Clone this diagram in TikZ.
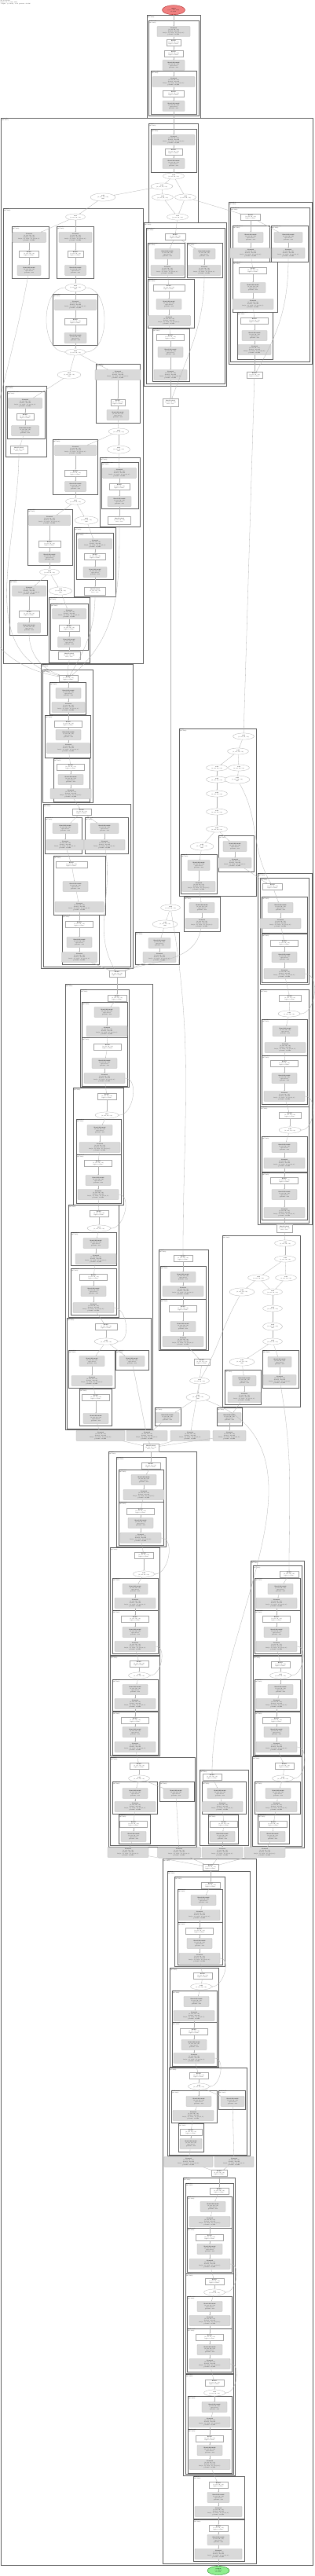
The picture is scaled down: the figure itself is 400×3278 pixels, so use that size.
\documentclass[tikz,border=0pt]{standalone}
\usetikzlibrary{shapes.geometric,arrows.meta}
\newcommand\tf{\fontsize{1.6}{2}\selectfont}
\newcommand\tC{\textbf{Conv2d}\\(1, 64, 56, 56)\\in=64, out=64\\k=(3, 3), s=(1, 1), p=(1, 1)\\params: 36,864}
\newcommand\tB{\textbf{BatchNorm2d}\\(1, 64, 56, 56)\\eps=1e-05\\params: 128}
\newcommand\tR{\textbf{ReLU}\\(1, 64, 56, 56)\\inplace=True}
\newcommand\tA{\textbf{add}\\(1, 64, 56, 56)}
\newcommand\tF{\textbf{MaxPool2d}\\(1, 64, 56, 56)\\k=3, s=2}
\tikzset{
 gb/.style={draw=black!30,fill=black!15,rounded corners=0.8pt,line width=0.25pt,minimum height=13pt,inner sep=0.4pt,align=center,font=\tf},
 wb/.style={draw=black!35,fill=white,line width=0.25pt,minimum height=8pt,inner sep=0.4pt,align=center,font=\tf},
 el/.style={ellipse,draw=black!35,fill=white,line width=0.25pt,minimum height=8pt,inner sep=0pt,align=center,font=\tf},
 cl/.style={draw=black!62,line width=0.6pt},
 cll/.style={anchor=north west,inner sep=0.6pt,align=left,font=\tf},
 ed/.style={draw=black!30,line width=0.3pt,-{Stealth[length=1.3pt,width=1pt]}},
}
\newcommand\nG[4]{\ifdim#4pt>40pt\node[gb,minimum width=#4pt] (#1) at (#2,#3) {\tC};\else\node[gb,minimum width=#4pt] (#1) at (#2,#3) {\tB};\fi}
\newcommand\nW[4]{\node[wb,minimum width=#4pt] (#1) at (#2,#3) {\tR};}
\newcommand\nWx[4]{\node[wb,minimum width=#4pt,minimum height=10pt] (#1) at (#2,#3) {\tF};}
\newcommand\nE[4]{\node[el,minimum width=#4pt] (#1) at (#2,#3) {\tA};}
\newcommand\nEx[4]{\node[el,minimum width=#4pt,minimum height=10pt] (#1) at (#2,#3) {\tA\\sum};}
\newcommand\cL[5]{\draw[cl] (#1,#2) rectangle (#3,#4); \node[cll] at (#1,#2) {#5\\(Module)};}
\newcommand\eD[2]{\draw[ed] (#1) -- (#2);}
\newcommand\eC[4]{\draw[ed] (#1) to[out=#3,in=#4] (#2);}
\newcommand\cH[1]{\def\prev{}\foreach \n in {#1}{\ifx\prev\empty\else\draw[ed] (\prev) -- (\n);\fi\xdef\prev{\n}}}
\begin{document}
\begin{tikzpicture}[x=1pt,y=-1pt]
\useasboundingbox (0,0) rectangle (400,3278);
\node[anchor=north west,inner sep=0.5pt,align=left,font=\tf] (legend) at (0,0) {Model graph\\input: (1, 3, 224, 224)\\output: (1, 1000), total params: 25.6M};
% ---------- clusters ----------
\cL{187}{19}{255}{150}{stem}
\cL{189}{26}{253}{147}{stem.conv}
\cL{192}{90}{250}{145}{stem.conv2}
\cL{1.3}{150}{398.7}{3264}{network}
\cL{189}{157}{252}{283}{stage0}
\cL{192}{164}{250}{219}{stage0.conv}
\cL{4}{265}{182}{844}{stage1}
\cL{15}{288}{62}{354}{stage1.b0}
\cL{72}{288}{119}{354}{stage1.b1}
\cL{67}{374}{124}{439}{stage1.b2}
\cL{122}{463}{178}{538}{stage1.b3}
\cL{7}{491}{59}{581}{stage1.b4}
\cL{9}{498}{57}{558}{stage1.b4.conv}
\cL{67}{559}{124}{629}{stage1.b5}
\cL{127}{582}{178}{670}{stage1.b6}
\cL{129}{588}{176}{647}{stage1.b6.conv}
\cL{35}{648}{92}{719}{stage1.b7}
\cL{94}{671}{147}{759}{stage1.b8}
\cL{97}{678}{144}{737}{stage1.b8.conv}
\cL{12}{738}{60}{808}{stage1.b9}
\cL{62}{760}{114}{843}{stage1.b10}
\cL{64}{768}{112}{827}{stage1.b10.conv}
\cL{52}{845}{169}{1232}{stage2}
\cL{54}{852}{118}{1021}{stage2.0}
\cL{63}{868}{109}{909}{stage2.0.a}
\cL{57}{910}{115}{964}{stage2.0.b}
\cL{68}{965}{114}{1020}{stage2.0.c}
\cL{55}{1023}{166}{1230}{stage2.1}
\cL{57}{1040}{104}{1086}{stage2.1.a}
\cL{108}{1040}{163}{1086}{stage2.1.b}
\cL{68}{1089}{134}{1164}{stage2.1.c}
\cL{79}{1164}{126}{1227}{stage2.1.d}
\cL{183}{283}{288}{491}{branch.a}
\cL{186}{290}{286}{488}{branch.a.0}
\cL{188}{309}{235}{353}{branch.a.0.x}
\cL{238}{309}{283}{353}{branch.a.0.y}
\cL{188}{355}{247}{417}{branch.a.0.c}
\cL{194}{418}{241}{485}{branch.a.0.d}
\cL{291}{257}{397}{463}{branch.b}
\cL{293}{264}{394}{460}{branch.b.0}
\cL{296}{287}{343}{333}{branch.b.0.x}
\cL{345}{287}{392}{333}{branch.b.0.y}
\cL{296}{333}{353}{397}{branch.b.0.c}
\cL{302}{397}{347}{457}{branch.b.0.d}
\cL{228}{927}{326}{1140}{merge}
\cL{278}{1063}{323}{1109}{merge.a}
\cL{230}{1087}{276}{1137}{merge.b}
\cL{234}{1141}{280}{1185}{merge.c}
\cL{172}{1186}{228}{1227}{merge.d}
\cL{328}{1111}{397}{1558}{stage3}
\cL{331}{1117}{393}{1252}{stage3.0}
\cL{333}{1141}{391}{1187}{stage3.0.a}
\cL{333}{1188}{391}{1250}{stage3.0.b}
\cL{331}{1259}{393}{1408}{stage3.1}
\cL{333}{1297}{391}{1343}{stage3.1.a}
\cL{333}{1343}{391}{1405}{stage3.1.b}
\cL{331}{1408}{393}{1556}{stage3.2}
\cL{333}{1446}{391}{1491}{stage3.2.a}
\cL{333}{1492}{391}{1552}{stage3.2.b}
\cL{83}{1252}{194}{1819}{stage4}
\cL{102}{1259}{164}{1383}{stage4.0}
\cL{104}{1275}{162}{1320}{stage4.0.a}
\cL{104}{1320}{162}{1382}{stage4.0.b}
\cL{93}{1384}{157}{1533}{stage4.1}
\cL{97}{1424}{154}{1469}{stage4.1.a}
\cL{97}{1469}{154}{1531}{stage4.1.b}
\cL{87}{1533}{151}{1676}{stage4.2}
\cL{90}{1568}{148}{1610}{stage4.2.a}
\cL{90}{1614}{148}{1673}{stage4.2.b}
\cL{85}{1677}{192}{1818}{stage4.3}
\cL{87}{1718}{146}{1766}{stage4.3.a}
\cL{147}{1718}{189}{1743}{stage4.3.b}
\cL{101}{1767}{142}{1814}{stage4.3.c}
\cL{202}{1590}{265}{1718}{stage5}
\cL{204}{1611}{262}{1653}{stage5.a}
\cL{204}{1653}{262}{1717}{stage5.b}
\cL{283}{1572}{382}{1790}{mix}
\cL{334}{1718}{380}{1766}{mix.a}
\cL{286}{1743}{332}{1787}{mix.b}
\cL{197}{1791}{230}{1814}{proj.a}
\cL{276}{1791}{308}{1814}{proj.b}
\cL{138}{1847}{250}{2350}{stage6}
\cL{148}{1854}{211}{1968}{stage6.0}
\cL{151}{1870}{208}{1911}{stage6.0.a}
\cL{151}{1911}{208}{1966}{stage6.0.b}
\cL{140}{1969}{203}{2106}{stage6.1}
\cL{143}{2008}{201}{2049}{stage6.1.a}
\cL{143}{2049}{201}{2104}{stage6.1.b}
\cL{140}{2107}{203}{2234}{stage6.2}
\cL{143}{2137}{201}{2177}{stage6.2.a}
\cL{143}{2178}{201}{2233}{stage6.2.b}
\cL{140}{2236}{248}{2348}{stage6.3}
\cL{143}{2267}{200}{2308}{stage6.3.a}
\cL{203}{2267}{247}{2292}{stage6.3.b}
\cL{151}{2309}{191}{2346}{stage6.3.c}
\cL{319}{1986}{387}{2351}{stage7}
\cL{322}{1992}{384}{2106}{stage7.0}
\cL{324}{2008}{382}{2049}{stage7.0.a}
\cL{324}{2049}{382}{2104}{stage7.0.b}
\cL{322}{2107}{384}{2234}{stage7.1}
\cL{324}{2137}{382}{2177}{stage7.1.a}
\cL{324}{2178}{382}{2233}{stage7.1.b}
\cL{321}{2235}{384}{2349}{stage7.2}
\cL{324}{2267}{382}{2308}{stage7.2.a}
\cL{328}{2309}{368}{2346}{stage7.2.b}
\cL{254}{2252}{316}{2348}{stage8}
\cL{257}{2267}{313}{2308}{stage8.a}
\cL{265}{2309}{303}{2346}{stage8.b}
\cL{207}{2365}{326}{3262}{head}
\cL{213}{2381}{318}{2743}{head.0}
\cL{222}{2388}{286}{2502}{head.0.0}
\cL{226}{2404}{283}{2446}{head.0.0.a}
\cL{226}{2446}{283}{2500}{head.0.0.b}
\cL{216}{2504}{278}{2630}{head.0.1}
\cL{219}{2533}{276}{2573}{head.0.1.a}
\cL{219}{2573}{276}{2629}{head.0.1.b}
\cL{215}{2631}{314}{2742}{head.0.2}
\cL{218}{2660}{276}{2701}{head.0.2.a}
\cL{278}{2660}{312}{2684}{head.0.2.b}
\cL{227}{2702}{259}{2738}{head.0.2.c}
\cL{233}{2771}{299}{3150}{head.1}
\cL{236}{2778}{297}{2893}{head.1.0}
\cL{238}{2795}{295}{2835}{head.1.0.a}
\cL{238}{2835}{295}{2891}{head.1.0.b}
\cL{236}{2893}{297}{3020}{head.1.1}
\cL{238}{2922}{295}{2963}{head.1.1.a}
\cL{238}{2963}{295}{3018}{head.1.1.b}
\cL{236}{3021}{297}{3148}{head.1.2}
\cL{239}{3049}{295}{3091}{head.1.2.a}
\cL{239}{3091}{295}{3147}{head.1.2.b}
\cL{246}{3151}{311}{3205}{head.2}
\cL{246}{3206}{311}{3259}{head.3}
% ---------- nodes ----------
\node[ellipse,draw=red!60!black,fill={rgb,255:red,240;green,128;blue,128},line width=0.3pt,minimum width=29pt,minimum height=12pt,inner sep=0pt,align=center,font=\tf] (in) at (221,12.7) {\textbf{input}\\(1, 3, 224, 224)\\float32};
\nG{a1}{221}{40}{42}\nW{a2}{221}{54}{18}\nW{a3}{221}{68}{24}\nG{a4}{221}{83}{28}
\nG{a5}{221}{104}{54}\nW{a6}{221}{119}{27}\nG{a7}{221}{135}{28}
\nG{b1}{221}{178}{54}\nW{b2}{221}{193}{22}\nG{b3}{221}{208}{28}
\nE{b4}{221}{224}{27}\nE{b5}{206}{237}{28}\nE{b6}{207}{251}{27}\nE{b7}{236}{251}{27}\nE{b8}{226}{276}{27}
\nEx{bo}{131}{251}{32}
% stage1
\nE{c0}{96}{276}{25}
\nG{c1a}{37}{302}{43}\nW{c1b}{37}{323}{25}\nG{c1c}{37}{344}{30}
\nG{c2a}{96}{302}{42}\nW{c2b}{96}{323}{20}\nG{c2c}{96}{344}{27}
\nEx{c3}{96}{366}{26}
\nG{c3a}{96}{388}{53}\nW{c3b}{96}{409}{28}\nG{c3c}{96}{430}{28}
\nE{c4}{96}{448}{25}\nEx{c5}{88}{477}{30}
\nG{c4a}{150}{477}{58}\nW{c4b}{150}{512}{18}\nG{c4c}{150}{528}{28}
\nG{c5a}{32}{513}{43}\nW{c5b}{32}{530}{22}\nG{c5c}{32}{548}{35}\nWx{c5d}{24}{572}{22}
\nG{c6a}{96}{573}{53}\nW{c6b}{96}{602}{28}\nG{c6c}{96}{619}{27}\nE{c6}{96}{638}{25}
\nE{c7}{151}{549}{26}\nEx{c8}{151}{572}{29}
\nG{c7a}{152}{602}{43}\nW{c7b}{152}{619}{26}\nG{c7c}{152}{638}{30}\nWx{c7d}{152}{662}{29}
\nEx{c9}{110}{662}{30}
\nG{c8a}{63}{662}{53}\nW{c8b}{63}{692}{28}\nG{c8c}{63}{709}{27}
\nE{c10}{63}{728}{25}\nEx{c11}{77}{752}{29}
\nG{c9a}{121}{692}{43}\nW{c9b}{121}{708}{27}\nG{c9c}{121}{728}{30}\nWx{c9d}{121}{752}{27}
\nG{c10a}{37}{752}{43}\nW{c10b}{37}{781}{26}\nG{c10c}{37}{799}{29}
\nG{c11a}{88}{781}{43}\nW{c11b}{88}{799}{26}\nG{c11c}{88}{817}{29}\nWx{c11d}{88}{834}{28}
% stage2
\nW{d0}{87}{863}{24}
\nG{d1}{87}{882}{32}\nG{d2}{87}{900}{42}
\nW{d3}{87}{921}{35}\nG{d4}{87}{935}{32}\nG{d5}{87}{952}{55}
\nW{d6}{90}{976}{35}\nG{d7}{90}{992}{32}\nG{d8}{90}{1010}{52}
\nW{d9}{104}{1033}{24}
\nG{d10}{83}{1054}{32}\nG{d11}{83}{1075}{48}
\nG{d12}{133}{1054}{36}\nG{d13}{133}{1075}{52}
\nW{d14}{91}{1100}{40}\nG{d15}{96}{1128}{32}\nG{d16}{101}{1154}{62}
\nW{d17}{101}{1176}{35}\nG{d18}{101}{1199}{32}\nG{d19}{101}{1218}{45}
\nW{i0}{149}{1239}{20}
% branch a, b
\nW{e0}{223}{301}{26}
\nG{e1}{213}{323}{32}\nG{e2}{213}{344}{42}
\nG{e3}{260}{323}{28}\nG{e4}{260}{344}{42}
\nW{e5}{215}{366}{40}\nG{e6}{215}{387}{32}\nG{e7}{215}{408}{55}
\nW{e8}{217}{429}{35}\nG{e9}{217}{448}{32}\nG{e10}{217}{477}{42}
\nWx{w1}{217}{512}{20}
\nW{f0}{319}{276}{25}
\nG{f1}{319}{302}{32}\nG{f2}{319}{322}{52}
\nG{f3}{367}{302}{36}\nG{f4}{367}{322}{42}
\nW{f5}{322}{344}{35}\nG{f6}{322}{366}{32}\nG{f7}{322}{387}{52}
\nW{f8}{324}{408}{35}\nG{f9}{324}{427}{32}\nG{f10}{324}{445}{42}
\nW{w2}{324}{477}{20}
% merge
\nE{g0}{310}{937}{27}\nE{g1}{303}{956}{27}
\nE{g2}{276}{977}{27}\nE{g3}{304}{977}{27}
\nE{g4}{276}{992}{27}\nEx{g5}{302}{992}{32}
\nE{g6}{276}{1010}{27}\nE{g7}{276}{1033}{27}\nE{g8}{276}{1055}{27}\nEx{g9}{257}{1077}{30}
\nG{g10}{299}{1077}{30}\nG{g11}{299}{1098}{42}
\nG{g12}{253}{1101}{28}\nG{g13}{253}{1128}{42}
\nG{g14}{257}{1155}{32}\nG{g15}{257}{1175}{42}
\nE{k0}{217}{1155}{25}\nEx{k1}{210}{1176}{32}
\nG{g16}{203}{1200}{28}\nG{g17}{203}{1218}{42}
% stage3
\nW{h0}{347}{1128}{25}
\nG{h1}{357}{1155}{32}\nG{h2}{357}{1175}{52}
\nW{h3}{362}{1200}{35}\nG{h4}{362}{1218}{32}\nG{h5}{362}{1239}{52}
\nW{h6}{369}{1270}{28}\nE{h7}{368}{1290}{28}
\nG{h8}{363}{1312}{32}\nG{h9}{363}{1333}{52}
\nW{h10}{362}{1353}{35}\nG{h11}{362}{1372}{32}\nG{h12}{362}{1395}{52}
\nW{h13}{369}{1419}{28}\nE{h14}{369}{1438}{28}
\nG{h15}{362}{1460}{32}\nG{h16}{362}{1480}{52}
\nW{h17}{362}{1502}{35}\nG{h18}{362}{1520}{32}\nG{h19}{362}{1543}{52}
\nWx{h20}{362}{1563}{20}
% stage4
\nW{i1}{149}{1270}{24}
\nG{i2}{136}{1288}{32}\nG{i3}{136}{1312}{52}
\nW{i4}{137}{1332}{35}\nG{i5}{133}{1353}{32}\nG{i6}{133}{1372}{52}
\nW{i7}{136}{1395}{24}\nE{i8}{136}{1419}{30}
\nG{i9}{127}{1438}{32}\nG{i10}{127}{1460}{52}
\nW{i11}{125}{1480}{35}\nG{i12}{125}{1502}{32}\nG{i13}{125}{1520}{52}
\nW{i14}{126}{1544}{24}\nE{i15}{126}{1563}{30}
\nG{i16}{122}{1582}{32}\nG{i17}{122}{1602}{52}
\nW{i18}{119}{1625}{35}\nG{i19}{119}{1643}{32}\nG{i20}{119}{1664}{52}
\nW{i21}{135}{1688}{28}\nE{i22}{135}{1707}{30}
\nG{i23}{117}{1732}{32}\nG{i24}{117}{1757}{52}
\nG{i25}{168}{1732}{32}
\nW{i26}{122}{1778}{35}\nG{i27}{122}{1805}{32}
% stage5
\nW{j0}{233}{1601}{24}
\nG{j1}{233}{1625}{32}\nG{j2}{233}{1643}{52}
\nW{j3}{233}{1665}{35}\nG{j4}{233}{1688}{32}\nG{j5}{233}{1707}{52}
\nW{j6}{257}{1733}{20}
% mix
\nE{k2}{363}{1582}{27}\nE{k3}{363}{1602}{27}
\nE{k4}{329}{1626}{27}\nE{k5}{364}{1626}{27}
\nEx{k6}{308}{1644}{32}\nE{k7}{347}{1644}{25}
\nE{k8}{347}{1665}{25}\nEx{k9}{347}{1688}{25}\nE{k10}{347}{1707}{25}
\nEx{k11}{308}{1733}{32}
\nG{k12}{356}{1733}{30}\nG{k13}{356}{1756}{42}
\nG{k14}{311}{1757}{30}\nG{k15}{311}{1778}{42}
\nE{m1}{254}{1757}{25}\nEx{m2}{252}{1778}{30}
\nG{l1}{213}{1804}{30}\nG{l2}{292}{1804}{30}
\nG{r1}{128}{1827}{62}\nG{r2}{187}{1827}{52}\nG{r3}{242}{1827}{50}\nG{r4}{292}{1827}{42}
\nWx{x0}{192}{1842}{20}
% stage6
\nW{m0}{192}{1865}{24}
\nG{m3}{183}{1883}{32}\nG{m4}{183}{1902}{52}
\nW{m5}{179}{1923}{35}\nG{m6}{179}{1938}{32}\nG{m7}{179}{1957}{52}
\nW{m8}{183}{1979}{24}\nE{m9}{183}{2003}{27}
\nG{m10}{172}{2022}{32}\nG{m11}{172}{2040}{52}
\nW{m12}{172}{2060}{35}\nG{m13}{172}{2077}{32}\nG{m14}{172}{2095}{52}
\nW{m15}{177}{2117}{24}\nE{m16}{177}{2132}{27}
\nG{m17}{172}{2150}{32}\nG{m18}{172}{2168}{52}
\nW{m19}{172}{2189}{35}\nG{m20}{172}{2204}{32}\nG{m21}{172}{2223}{52}
\nW{m22}{177}{2247}{24}\nE{m23}{177}{2263}{27}
\nG{m24}{172}{2282}{32}\nG{m25}{172}{2299}{52}
\nG{m26}{224}{2282}{32}
\nW{m27}{170}{2321}{35}\nG{m28}{170}{2337}{32}
% stage7
\nW{n0}{368}{2003}{24}
\nG{n1}{357}{2022}{32}\nG{n2}{352}{2040}{52}
\nW{n3}{352}{2060}{35}\nG{n4}{352}{2077}{32}\nG{n5}{352}{2095}{52}
\nW{n6}{357}{2118}{24}\nE{n7}{357}{2132}{27}
\nG{n8}{357}{2150}{32}\nG{n9}{352}{2168}{52}
\nW{n10}{352}{2189}{35}\nG{n11}{352}{2204}{32}\nG{n12}{352}{2223}{52}
\nW{n13}{362}{2247}{24}\nE{n14}{360}{2263}{27}
\nG{n15}{354}{2282}{32}\nG{n16}{352}{2299}{52}
\nW{n17}{348}{2321}{35}\nG{n18}{347}{2337}{32}
% stage8
\nW{o0}{270}{2261}{24}
\nG{o1}{280}{2282}{32}\nG{o2}{283}{2299}{52}
\nW{o3}{285}{2321}{35}\nG{o4}{283}{2337}{32}
\nG{s1}{163}{2357}{52}\nG{s2}{228}{2357}{55}\nG{s3}{283}{2357}{52}\nG{s4}{337}{2357}{52}
\nW{y0}{268}{2376}{20}
% head
\nW{p0}{268}{2399}{24}
\nG{p1}{259}{2418}{32}\nG{p2}{254}{2437}{52}
\nW{p3}{254}{2457}{35}\nG{p4}{254}{2473}{32}\nG{p5}{254}{2492}{52}
\nW{p6}{258}{2514}{24}\nE{p7}{256}{2528}{27}
\nG{p8}{250}{2547}{32}\nG{p9}{247}{2565}{52}
\nW{p10}{247}{2585}{35}\nG{p11}{247}{2602}{32}\nG{p12}{247}{2619}{52}
\nW{p13}{253}{2641}{24}\nE{p14}{253}{2655}{27}
\nG{p15}{253}{2674}{32}\nG{p16}{246}{2692}{52}
\nG{p17}{296}{2674}{30}
\nW{p18}{243}{2713}{28}\nG{p19}{243}{2728}{28}
\nG{t1}{240}{2751}{62}\nG{t2}{298}{2751}{50}
\nW{z0}{279}{2765}{20}
\nW{q0}{279}{2788}{24}
\nG{q1}{271}{2808}{32}\nG{q2}{267}{2827}{52}
\nW{q3}{267}{2847}{35}\nG{q4}{267}{2862}{32}\nG{q5}{267}{2881}{52}
\nW{q6}{273}{2903}{24}\nE{q7}{273}{2917}{27}
\nG{q8}{267}{2935}{32}\nG{q9}{267}{2953}{52}
\nW{q10}{267}{2974}{35}\nG{q11}{267}{2990}{32}\nG{q12}{267}{3008}{52}
\nW{q13}{273}{3032}{24}\nE{q14}{273}{3045}{27}
\nG{q15}{273}{3063}{32}\nG{q16}{267}{3082}{52}
\nW{q17}{267}{3103}{35}\nG{q18}{267}{3118}{32}\nG{q19}{267}{3136}{52}
\nW{q20}{278}{3162}{24}\nG{q21}{278}{3178}{28}\nG{q22}{278}{3196}{60}
\nW{q23}{278}{3217}{24}\nG{q24}{278}{3232}{28}\nG{q25}{278}{3250}{60}
\node[ellipse,draw=green!45!black,fill={rgb,255:red,144;green,238;blue,144},line width=0.3pt,minimum width=28pt,minimum height=11pt,inner sep=0pt,align=center,font=\tf] (out) at (278,3271) {\textbf{output}\\(1, 1000)\\float32};
% ---------- edges ----------
\cH{in,a1,a2,a3,a4,a5,a6,a7,b1,b2,b3,b4}
\cH{b4,b5,b6,b8}\cH{b4,b7,b8}
\eD{b5}{bo}\eD{bo}{c0}\eD{b7}{f0}\eD{b8}{e0}
\cH{c0,c1a,c1b,c1c}
\cH{c0,c2a,c2b,c2c,c3,c3a,c3b,c3c,c4,c5}
\cH{c4,c4a,c4b,c4c,c7,c8,c7a,c7b,c7c,c7d}
\cH{c5,c5a,c5b,c5c,c5d}
\cH{c7,c6a,c6b,c6c,c6}
\cH{c6,c8a,c8b,c8c,c10,c11,c11a,c11b,c11c,c11d}
\cH{c10,c10a,c10b,c10c}
\cH{c6,c9,c9a,c9b,c9c,c9d}
\eC{c1c}{d0}{-100}{170}\eC{c5d}{d0}{-90}{165}\eC{c10c}{d0}{-90}{160}
\eC{c11d}{d0}{-90}{100}\eC{c9d}{d0}{-90}{60}\eC{c7d}{d0}{-90}{40}
\eC{c3}{c4}{180}{180}\eC{c3}{c4}{0}{0}
\cH{d0,d1,d2,d3,d4,d5,d6,d7,d8,d9,d10,d11,d14,d15,d16,d17,d18,d19,i0}
\cH{d9,d12,d13}\eC{d13}{i0}{-80}{120}
\cH{e0,e1,e2,e5,e6,e7,e8,e9,e10,w1}
\cH{e0,e3,e4}\eC{e4}{w1}{-90}{70}
\cH{f0,f1,f2,f5,f6,f7,f8,f9,f10,w2}
\cH{f0,f3,f4}\eC{f4}{w2}{-90}{60}
\eD{w1}{k0}\eD{w2}{g0}
\cH{g0,g1,g2,g4,g6,g7,g8,g9,g12,g13,g14,g15}
\cH{g1,g3,g5}\cH{g8,g10,g11}
\eC{g5}{h0}{-60}{120}\eC{g11}{h0}{-30}{150}
\eC{g15}{i0}{-100}{20}
\cH{k0,k1,g16,g17,i0}
\cH{h0,h1,h2,h3,h4,h5,h6,h7,h8,h9,h10,h11,h12,h13,h14,h15,h16,h17,h18,h19,h20,k2}
\eC{h5}{h7}{0}{0}\eC{h12}{h14}{0}{0}
\cH{i0,i1,i2,i3,i4,i5,i6,i7,i8,i9,i10,i11,i12,i13,i14,i15,i16,i17,i18,i19,i20,i21,i22,i23,i24,i26,i27,r1}
\cH{i22,i25,r2}
\eC{i6}{i8}{0}{0}\eC{i13}{i15}{0}{0}\eC{i20}{i22}{0}{0}
\eC{k0}{j0}{-80}{90}
\cH{j0,j1,j2,j3,j4,j5,j6,m1,m2,l1,r2}
\eD{m1}{r3}
\cH{k2,k3,k4,k6}\cH{k3,k5,k7,k8,k9,k10,k12,k13}\eD{k4}{k7}
\cH{k10,k11,k14,k15,l2,r4}
\eC{k6}{m1}{-120}{60}
\eC{k13}{n0}{-80}{90}
\eC{m2}{o0}{-20}{90}
\foreach \s in {r1,r2,r3,r4}{\draw[ed] (\s) -- (x0);}
\cH{x0,m0,m3,m4,m5,m6,m7,m8,m9,m10,m11,m12,m13,m14,m15,m16,m17,m18,m19,m20,m21,m22,m23,m24,m25,m27,m28,s1}
\cH{m23,m26,s2}
\eC{m7}{m9}{0}{0}\eC{m14}{m16}{0}{0}
\cH{n0,n1,n2,n3,n4,n5,n6,n7,n8,n9,n10,n11,n12,n13,n14,n15,n16,n17,n18,s4}
\eC{n5}{n7}{0}{0}\eC{n12}{n14}{0}{0}
\cH{o0,o1,o2,o3,o4,s3}
\foreach \s in {s1,s2,s3,s4}{\draw[ed] (\s) -- (y0);}
\cH{y0,p0,p1,p2,p3,p4,p5,p6,p7,p8,p9,p10,p11,p12,p13,p14,p15,p16,p18,p19,t1}
\cH{p14,p17,t2}
\eC{p5}{p7}{0}{0}\eC{p12}{p14}{0}{0}
\eD{t1}{z0}\eD{t2}{z0}
\cH{z0,q0,q1,q2,q3,q4,q5,q6,q7,q8,q9,q10,q11,q12,q13,q14,q15,q16,q17,q18,q19,q20,q21,q22,q23,q24,q25,out}
\eC{q5}{q7}{0}{0}\eC{q12}{q14}{0}{0}
\end{tikzpicture}
\end{document}
